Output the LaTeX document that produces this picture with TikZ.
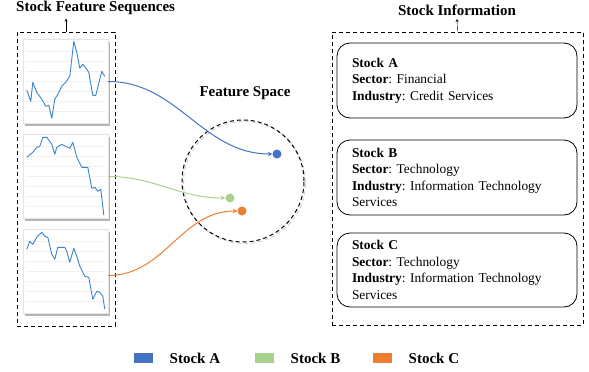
\documentclass[tikz,border=0pt]{standalone}
\usepackage{fontspec}
\setmainfont{Liberation Serif}
\usetikzlibrary{arrows,positioning,shadows}
\frenchspacing

\definecolor{stockA}{HTML}{4472C4}
\definecolor{stockB}{HTML}{A9D18E}
\definecolor{stockC}{HTML}{ED7D31}
\definecolor{sparkline}{HTML}{3A86C8}

\tikzset{
  groupbox/.style={draw, dash pattern=on 4pt off 3pt, line width=1pt},
  chart/.style={draw=gray!20, fill=white, minimum width=85pt, minimum height=84pt,
    drop shadow={shadow xshift=2pt, shadow yshift=-2pt, opacity=.6}},
  infobox/.style={draw, line width=.8pt, rounded corners=13pt, minimum width=240pt,
    minimum height=75pt, text width=210pt, align=left, inner xsep=15pt,
    font=\fontsize{13.4}{16.5}\selectfont},
  heading/.style={font=\fontsize{15}{18}\selectfont\bfseries},
  dot/.style={circle, inner sep=0pt, minimum size=9pt},
  swatch/.style={inner sep=0pt, minimum width=19pt, minimum height=10pt},
}

\begin{document}
\begin{tikzpicture}[x=1pt, y=-1pt]
  \useasboundingbox (0,0) rectangle (589,372);

  % left: feature sequences
  \node[groupbox, minimum width=98pt, minimum height=294pt] (seqbox) at (66,179) {};
  \node[heading, anchor=west, inner xsep=0pt] (seqtitle) at (16,8) {Stock Feature Sequences};
  \draw[-stealth] (seqbox.north) -- (seqbox.north |- seqtitle.south);

  \node[chart] (c1) at (65.5,81.5) {};
  \node[chart] (c2) at (65.5,176.5) {};
  \node[chart] (c3) at (65.5,271.5) {};

  \foreach \c/\pts in {c1/{(4,51) (8,62) (10,43) (14,53) (19,60) (23,67) (26,66) (29,79) (32,60) (35,55) (39,47) (43,43) (47,37) (51,2) (54,13) (57,29) (60,25) (64,30) (66,33) (70,56) (73,56) (77,40) (79,32) (82,37)},
                       c2/{(4,23) (10,18) (14,13) (17,12) (20,3) (24,3) (29,10) (32,20) (34,13) (39,10) (43,12) (47,14) (50,8) (54,23) (59,33) (65,33) (69,54) (72,53) (75,57) (78,55) (81,81)},
                       c3/{(4,20) (7,12) (10,15) (14,8) (19,3) (22,7) (25,8) (29,25) (32,30) (35,18) (40,18) (42,18) (44,22) (47,33) (51,19) (54,27) (57,37) (62,47) (66,48) (70,70) (74,62) (77,63) (80,67) (82,80)}}
  {
    \begin{scope}[shift={(\c.north west)}]
      \foreach \g in {12,22,...,72}
        \draw[gray!12, line width=.6pt] (3,\g) -- (83,\g);
      \draw[sparkline, line width=.9pt, line join=round] plot coordinates {\pts};
    \end{scope}
  }

  % middle: feature space
  \node[heading] (spacetitle) at (245,93) {Feature Space};
  \node[circle, groupbox, draw=gray!35, minimum size=122pt] (spaceshadow) at (244.5,182.5) {};
  \node[circle, groupbox, minimum size=122pt] (space) at (243,181) {};
  \node[dot, fill=stockA] (pA) at (277,154) {};
  \node[dot, fill=stockB] (pB) at (230,198) {};
  \node[dot, fill=stockC] (pC) at (242,211) {};

  \path[-stealth, line width=1pt]
  (c1.east) edge[stockA, out=0, in=180] (pA.west)
  (c2.east) edge[stockB, out=0, in=180] (pB.west)
  ([yshift=-4pt]c3.east) edge[stockC, out=0, in=180] (pC.west);

  % right: stock information
  \node[groupbox, minimum width=251pt, minimum height=293pt] (infobox) at (457.5,178.5) {};
  \node[heading] (infotitle) at (457,10) {Stock Information};
  \draw[-stealth] (infobox.north) -- (infotitle.south);

  \node[infobox] (iA) at (457,80.5)
    {\textbf{Stock A}\\\textbf{Sector}: Financial\\\textbf{Industry}: Credit Services};
  \node[infobox] (iB) at (457,177.5)
    {\textbf{Stock B}\\\textbf{Sector}: Technology\\\textbf{Industry}: Information Technology\\Services};
  \node[infobox, minimum height=74pt] (iC) at (457,270)
    {\textbf{Stock C}\\\textbf{Sector}: Technology\\\textbf{Industry}: Information Technology\\Services};

  % legend
  \node[swatch, fill=stockA] (lA) at (143.5,358) {};
  \node[heading, right=13pt of lA] {Stock A};
  \node[swatch, fill=stockB] (lB) at (264.5,358) {};
  \node[heading, right=13pt of lB] {Stock B};
  \node[swatch, fill=stockC] (lC) at (382.5,358) {};
  \node[heading, right=13pt of lC] {Stock C};
\end{tikzpicture}
\end{document}
